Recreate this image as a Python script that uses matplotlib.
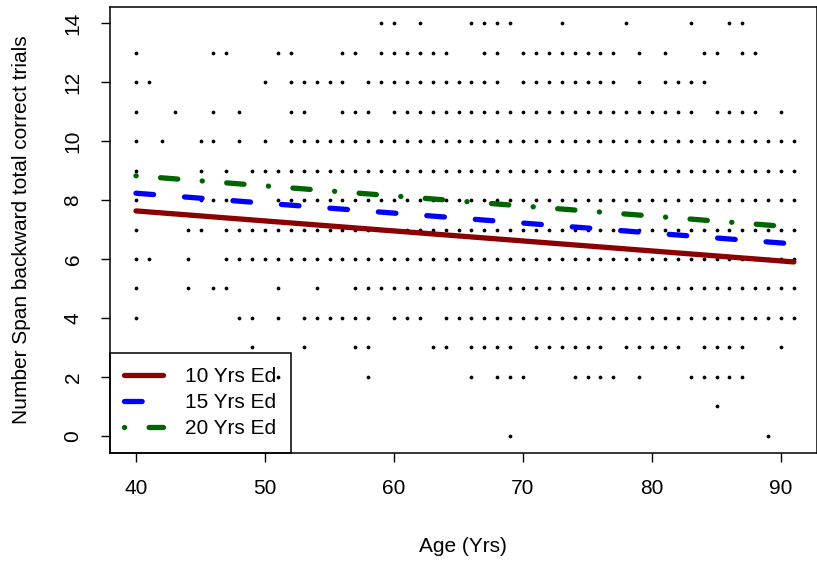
import matplotlib
matplotlib.use('Agg')
import matplotlib.pyplot as plt

plt.rcParams['font.family'] = ['Liberation Sans', 'DejaVu Sans']
plt.rcParams['lines.scale_dashes'] = False

# ages (yrs) at which each span score occurs in the sample
ages_14 = [59, 60, 62, 66, 67, 68, 69, 73, 78, 83, 86, 87]
ages_13 = [40, 46, 47, 51, 52, 56, 57, 59, 60, 61, 62, 63, 64, 67, 68] + list(range(70, 78)) + [79, 81, 84, 85, 87, 88]
ages_12 = [40, 41, 50, 52, 53, 54, 55, 56] + list(range(58, 69)) + list(range(70, 78)) + [79, 81, 82, 83, 84]
ages_11 = [40, 43, 46, 48, 52, 53, 56, 57, 58] + list(range(60, 84)) + [85, 86, 87, 88, 90]
ages_10 = [40, 42, 45, 46, 48, 50] + list(range(52, 92))
ages_9 = [40, 45, 47, 49, 50, 51] + list(range(52, 92))
ages_8 = [40, 45, 46, 47, 51] + list(range(52, 92))
ages_7 = [40, 44, 45, 47, 48, 49, 50, 51] + list(range(52, 92))
ages_6 = [40, 41, 44, 47, 48, 49, 50, 51] + list(range(52, 92))
ages_5 = [40, 44, 46, 47, 51, 54] + list(range(57, 92))
ages_4 = [40, 48, 49, 51, 53, 54, 55, 56, 57, 58, 60, 61, 62] + list(range(64, 92))
ages_3 = [49, 53, 57, 58, 63, 64, 66, 67, 68, 69, 71, 72, 73, 74, 75, 76, 78,
          79, 80, 81, 82, 84, 85, 86, 87, 90]
ages_2 = [51, 58, 66, 68, 69, 70, 74, 75, 76, 77, 79, 83, 84, 85, 86, 87]
ages_1 = [85]
ages_0 = [69, 89]

scores = [14, 13, 12, 11, 10, 9, 8, 7, 6, 5, 4, 3, 2, 1, 0]
age_rows = [ages_14, ages_13, ages_12, ages_11, ages_10, ages_9, ages_8, ages_7,
            ages_6, ages_5, ages_4, ages_3, ages_2, ages_1, ages_0]

# fitted lines for three education levels
fit_age = [40, 91]
fit_10 = [7.63, 5.90]
fit_15 = [8.23, 6.51]
fit_20 = [8.82, 7.08]

x_ticks = [40, 50, 60, 70, 80, 90]
y_ticks = [0, 2, 4, 6, 8, 10, 12, 14]

fig = plt.figure(figsize=(8.17, 5.61), dpi=100)
W, H = 817.0, 561.0
ax = fig.add_axes([109.7 / W, 1 - 452.5 / H, (817 - 109.7) / W, (452.5 - 6.5) / H])

xs, ys = [], []
for s, row in zip(scores, age_rows):
    xs += row
    ys += [s] * len(row)
ax.plot(xs, ys, 'o', color='black', markersize=2.7, markeredgewidth=0, zorder=3)

lw = 3.8
ax.plot(fit_age, fit_10, color='#8B0000', lw=lw, solid_capstyle='round', label='10 Yrs Ed', zorder=4)
ax.plot(fit_age, fit_15, color='#0000FF', lw=lw, dashes=(12.7, 22.3), dash_capstyle='round',
        label='15 Yrs Ed', zorder=4)
ax.plot(fit_age, fit_20, color='#006400', lw=lw, dashes=(0.1, 17.6, 12.5, 17.6), dash_capstyle='round',
        label='20 Yrs Ed', zorder=4)

ax.set_xlim(40 - 26.3 / 12.9, 40 + (817 - 136) / 12.9)
ax.set_ylim(-0.56, 14.56)
ax.set_xticks(x_ticks)
ax.set_yticks(y_ticks)
ax.tick_params(axis='both', direction='out', length=6.5, width=1.0, labelsize=15)
ax.tick_params(axis='x', pad=12.5)
ax.tick_params(axis='y', labelrotation=90, pad=13)
for lab in ax.get_yticklabels():
    lab.set_va('center')
for sp in ax.spines.values():
    sp.set_linewidth(1.1)

ax.set_xlabel('Age (Yrs)', fontsize=15, labelpad=28)
ax.set_ylabel('Number Span backward total correct trials', fontsize=15, labelpad=23.5)

leg = ax.legend(loc='lower left', bbox_to_anchor=(0, 0), borderaxespad=0, fontsize=15,
                fancybox=False, edgecolor='black', facecolor='none', framealpha=1,
                handlelength=1.85, handletextpad=1.05, labelspacing=0.33, borderpad=0.7)
leg.get_frame().set_linewidth(1.1)

fig.savefig('out.png', dpi=100)
